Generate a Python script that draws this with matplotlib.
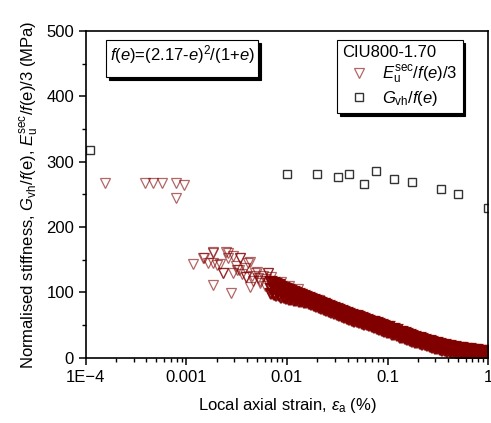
import matplotlib
matplotlib.use("Agg")
import matplotlib.pyplot as plt

plt.rcParams['font.family'] = ['Liberation Sans', 'DejaVu Sans']
plt.rcParams['mathtext.fontset'] = 'custom'
plt.rcParams['mathtext.rm'] = 'Liberation Sans'
plt.rcParams['mathtext.it'] = 'Liberation Sans:italic'
plt.rcParams['mathtext.bf'] = 'Liberation Sans:bold'

# Gvh / f(e) from bender elements
gvh_strain = [1.1e-4, 0.0100, 0.0199, 0.0319, 0.0417, 0.0586, 0.0766, 0.115, 0.177, 0.338, 0.50, 0.995]
gvh_stiff = [318, 281, 281, 276, 281, 266, 285, 274, 269, 258, 251, 229]

# Eu_sec / f(e) / 3, small-strain scatter
eu_strain = [1.55e-4, 3.86e-4, 4.68e-4, 5.66e-4, 7.8e-4, 9.44e-4, 7.8e-4,
             1.17e-3, 1.47e-3, 1.49e-3, 1.65e-3, 1.83e-3, 1.82e-3, 1.85e-3, 1.85e-3,
             2.0e-3, 2.16e-3, 2.3e-3, 2.32e-3, 2.5e-3, 2.61e-3, 2.61e-3, 2.8e-3,
             2.9e-3, 2.9e-3, 3.15e-3, 3.3e-3, 3.4e-3, 3.4e-3, 3.95e-3, 3.95e-3,
             4.1e-3, 4.3e-3, 4.3e-3, 4.8e-3, 5.0e-3, 5.4e-3, 5.4e-3, 6.5e-3,
             6.5e-3, 7.3e-3, 8.5e-3, 8.5e-3, 9.9e-3, 1.2e-2,
             3.1e-3, 3.6e-3, 3.8e-3, 4.5e-3, 4.6e-3, 5.2e-3, 5.8e-3, 6.0e-3,
             6.2e-3, 6.8e-3, 7.0e-3, 7.6e-3, 8.0e-3, 8.8e-3, 9.2e-3, 1.05e-2,
             1.1e-2, 1.3e-2, 1.4e-2, 1.6e-2, 1.8e-2, 2.1e-2, 2.4e-2]
eu_stiff = [267, 267, 267, 267, 267, 265, 244,
            144, 152, 152, 145, 145, 112, 161, 162,
            142, 144, 130, 130, 162, 161, 152, 99,
            130, 155, 135, 135, 152, 152, 124, 124,
            145, 109, 147, 130, 132, 117, 114, 130,
            130, 114, 112, 109, 107, 99,
            140, 128, 138, 125, 118, 122, 125, 110,
            120, 117, 124, 108, 113, 116, 104, 110,
            101, 105, 97, 93, 90, 88, 84]

# Eu_sec / f(e) / 3, continuous logging (upper edge, middle, lower edge of the band)
band_strain = [0.0070, 0.0074, 0.0078, 0.0083, 0.0088, 0.0093, 0.0098, 0.0104, 0.0110,
               0.0117, 0.0124, 0.0131, 0.0139, 0.0147, 0.0156, 0.0165, 0.0175, 0.0185,
               0.0196, 0.0208, 0.0220, 0.0233, 0.0247, 0.0262, 0.0277, 0.0294, 0.0311,
               0.0330, 0.0349, 0.0370, 0.0392, 0.0415, 0.0440, 0.0466, 0.0494, 0.0523,
               0.0554, 0.0587, 0.0622, 0.0659, 0.0698, 0.0739, 0.0783, 0.0830, 0.0879,
               0.0931, 0.0986, 0.104, 0.111, 0.117, 0.124, 0.132, 0.139, 0.148, 0.156,
               0.166, 0.175, 0.186, 0.197, 0.209, 0.221, 0.234, 0.248, 0.263, 0.278,
               0.295, 0.312, 0.331, 0.350, 0.371, 0.393, 0.417, 0.441, 0.468, 0.495,
               0.525, 0.556, 0.589, 0.624, 0.661, 0.700, 0.741, 0.785, 0.832, 0.881,
               0.933, 0.988]
band_upper = [116, 114, 113, 111, 109, 107, 105, 104, 102,
              100, 99, 98, 96, 95, 93, 92, 90, 89,
              87, 86, 84, 82.5, 81, 79.5, 78, 76.5, 75,
              73, 71.5, 70, 68.5, 67, 66, 64.5, 63.5, 62,
              61, 59.5, 58.5, 57, 55.5, 54.5, 53, 51.5, 50,
              49, 47.5, 46.5, 44.5, 43.5, 42, 40, 39, 37.5, 36,
              34.5, 33.5, 32, 31, 30, 29, 28, 26.5, 25.5, 24.5,
              23, 22, 21, 20, 19, 18.5, 17.5, 17, 16.5, 15.5,
              15, 14.5, 14, 13.5, 13, 12.5, 12, 11.5, 11, 10.5,
              10, 9.5]
band_middle = [106, 105, 104, 102, 100.5, 99, 97.5, 96.5, 95,
               94, 93, 92, 91, 89.5, 88.5, 87, 85.5, 84,
               82.5, 81, 79.5, 78, 76.5, 75, 73.5, 72, 70.5,
               68.5, 67, 65.5, 64, 62.5, 61.5, 60, 59, 57.5,
               56.5, 55, 54, 52.5, 51, 50, 48.5, 47, 45.5,
               44.5, 43, 42, 40, 39, 37.5, 35.5, 34.5, 33, 31.5,
               30, 29, 27.5, 26.5, 25.5, 24.5, 23.5, 22, 21, 20,
               18.5, 17.5, 16.5, 15.5, 14.5, 14, 13, 12.5, 12, 11,
               10.5, 10, 9.5, 9, 8.5, 8, 7.5, 7, 6.5, 6,
               5.5, 5]
band_lower = [97, 96, 95, 94, 92, 91, 90, 89, 88,
              87.5, 87, 86, 85.5, 84.5, 83.5, 82, 80.5, 79,
              78, 76.5, 75, 73.5, 72, 70.5, 69, 67.5, 66,
              64, 62.5, 61, 59.5, 58, 57, 55.5, 54.5, 53,
              52, 50.5, 49.5, 48, 46.5, 45.5, 44, 42.5, 41,
              40, 38.5, 37.5, 35.5, 34.5, 33, 31, 30, 28.5, 27,
              25.5, 24.5, 23, 22, 21, 20, 19, 17.5, 16.5, 15.5,
              14, 13, 12, 11, 10, 9.5, 8.5, 8, 7.5, 6.5,
              6, 5.5, 5, 4.5, 4, 3.5, 3, 2.5, 2, 1.5,
              1, 0.5]

red = '#800000'

fig = plt.figure(figsize=(4.91, 4.23), dpi=100)
ax = fig.add_axes([0.175, 0.154, 0.819, 0.773])

tri = dict(linestyle='none', marker='v', markersize=6.5, mfc='none', mec=red)
ax.plot(eu_strain, eu_stiff, mew=0.9, alpha=0.6, label=r'$E_{\rm u}^{\rm sec}/f(e)/3$', **tri)
for band in (band_upper, band_middle, band_lower):
    ax.plot(band_strain, band, mew=1.6, alpha=0.95, **tri)
ax.plot(gvh_strain, gvh_stiff, linestyle='none', marker='s', markersize=5.5,
        mfc='none', mec='#333333', mew=1.0, label=r'$G_{\rm vh}/f(e)$')

ax.set_xscale('log')
ax.set_xlim(1e-4, 1)
ax.set_ylim(0, 500)
ax.set_xticks([1e-4, 1e-3, 1e-2, 1e-1, 1])
ax.set_xticklabels(['1E\u22124', '0.001', '0.01', '0.1', '1'])
ax.set_yticks([0, 100, 200, 300, 400, 500])
ax.set_yticks([50, 150, 250, 350, 450], minor=True)
ax.tick_params(which='major', direction='out', length=5, width=1.1, labelsize=12)
ax.tick_params(which='minor', direction='out', length=3, width=1.0)
for s in ax.spines.values():
    s.set_linewidth(1.2)

ax.set_xlabel(r'Local axial strain, $\varepsilon_{\rm a}$ (%)', fontsize=12, labelpad=8)
ax.set_ylabel(r'Normalised stiffness, $G_{\rm vh}$/$f$(e), $E_{\rm u}^{\rm sec}$/$f$(e)/3 (MPa)',
              fontsize=12, labelpad=4)

box = dict(fancybox=False, edgecolor='black', framealpha=1,
           shadow={'color': 'black', 'alpha': 1}, borderaxespad=0)

# equation box: a handle-less legend carrying only its title
eq_box = ax.legend(handles=[], title=r'$f(e)$=(2.17-$e$)$^2$/(1+$e$)', title_fontsize=12,
                   loc='upper left', bbox_to_anchor=(0.05, 0.972), borderpad=0.25, **box)
eq_box.get_frame().set_linewidth(0.8)
ax.add_artist(eq_box)

leg = ax.legend(loc='upper right', bbox_to_anchor=(0.937, 0.972), title='CIU800-1.70',
                fontsize=12, title_fontsize=12, alignment='left', borderpad=0.3,
                handletextpad=0.4, labelspacing=0.2, **box)
leg.get_frame().set_linewidth(0.8)
leg.set_zorder(7)

plt.savefig('out.png', dpi=100)
